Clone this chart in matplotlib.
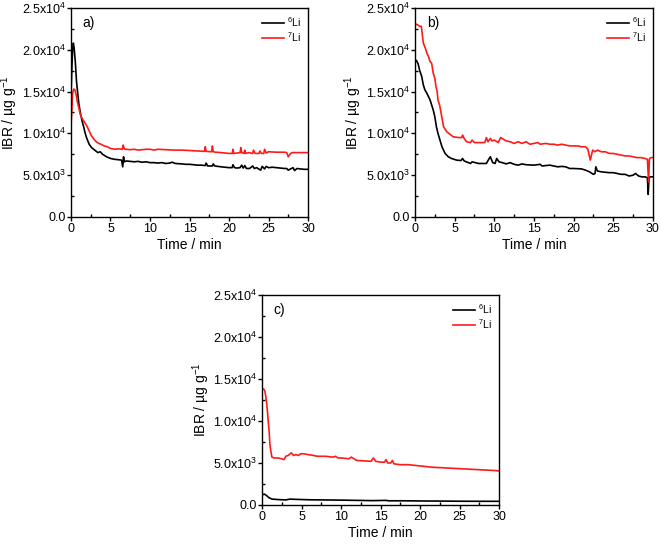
import numpy as np
import matplotlib
matplotlib.use("Agg")
import matplotlib.pyplot as plt
from matplotlib.ticker import MultipleLocator, FuncFormatter

plt.rcParams.update({"font.family": "Liberation Sans", "font.size": 9,
                     "mathtext.fontset": "custom",
                     "mathtext.rm": "Liberation Sans",
                     "mathtext.it": "Liberation Sans:italic",
                     "mathtext.bf": "Liberation Sans:bold"})

# ---- datos (IBR en unidades de 1e3 ug/g) ----
# a)
ta_6 = [0, 0.1, 0.2, 0.3, 0.4, 0.55, 0.7, 0.85, 1.0, 1.2, 1.4, 1.6, 1.8, 2.0, 2.3, 2.6,
        3.0, 3.4, 3.7, 4.0, 4.5, 5.0, 5.5, 6.0, 6.4, 6.55, 6.65, 6.75, 7.0, 7.5, 8.0, 8.5,
        9.0, 9.5, 10, 10.5, 11, 11.5, 12, 12.5, 12.8, 13.2, 14, 14.5, 15, 15.5, 16, 16.5,
        17, 17.1, 17.3, 17.9, 18.0, 18.2, 19, 19.5, 20, 20.4, 20.5, 20.7, 21, 21.4, 21.6,
        21.8, 22.0, 22.2, 22.6, 23.0, 23.2, 23.5, 24.0, 24.2, 24.5, 24.7, 25, 25.5, 26,
        26.5, 27, 27.3, 27.5, 27.8, 28.1, 28.3, 28.6, 29, 29.5, 30]
ya_6 = [14.5, 17.5, 20.0, 20.8, 20.2, 18.5, 16.2, 14.8, 13.5, 12.4, 11.5, 10.8, 10.0, 9.4,
        8.7, 8.3, 8.0, 7.7, 7.8, 7.5, 7.2, 7.0, 6.9, 6.85, 6.8, 6.0, 7.2, 6.6, 6.7, 6.65,
        6.6, 6.65, 6.55, 6.6, 6.5, 6.5, 6.45, 6.5, 6.4, 6.45, 6.55, 6.4, 6.35, 6.3, 6.3,
        6.25, 6.2, 6.2, 6.15, 6.45, 6.1, 6.1, 6.35, 6.1, 6.0, 5.95, 5.9, 5.9, 6.25, 5.9,
        5.85, 5.9, 6.2, 5.85, 6.15, 5.8, 5.8, 6.1, 5.8, 5.9, 5.6, 6.05, 5.75, 6.05, 5.9,
        5.95, 5.9, 5.85, 5.8, 5.8, 5.6, 5.75, 5.9, 5.55, 5.8, 5.75, 5.7, 5.7]
ta_7 = [0, 0.1, 0.2, 0.35, 0.5, 0.65, 0.8, 1.0, 1.2, 1.4, 1.6, 1.8, 2.0, 2.3, 2.6, 2.9,
        3.2, 3.5, 3.8, 4.2, 4.6, 5.0, 5.5, 6.0, 6.5, 6.6, 6.7, 6.8, 7.0, 7.5, 8, 8.5, 9,
        9.5, 10, 10.5, 11, 12, 13, 14, 15, 16, 16.9, 17.0, 17.1, 17.8, 17.9, 18.0, 18.3,
        19, 19.5, 20, 20.4, 20.5, 20.6, 21, 21.4, 21.5, 21.6, 21.9, 22.0, 22.1, 22.5, 23,
        23.1, 23.3, 23.8, 23.9, 24.1, 24.4, 24.5, 24.7, 25, 26, 27, 27.3, 27.5, 27.8, 28,
        29, 30]
ya_7 = [11.0, 12.5, 14.8, 15.3, 15.2, 14.6, 13.8, 13.0, 12.2, 11.8, 11.5, 11.2, 10.9,
        10.3, 9.7, 9.3, 9.0, 8.8, 8.7, 8.5, 8.4, 8.2, 8.1, 8.15, 8.1, 8.6, 8.3, 8.1, 8.1,
        8.05, 8.1, 8.0, 8.05, 8.1, 8.1, 8.0, 8.1, 8.05, 8.0, 8.0, 7.95, 7.9, 7.85, 8.4,
        7.85, 7.8, 8.5, 7.8, 7.75, 7.7, 7.65, 7.6, 7.6, 8.1, 7.6, 7.65, 7.7, 8.3, 7.7,
        7.6, 8.0, 7.6, 7.7, 7.6, 8.0, 7.6, 7.6, 7.9, 7.6, 7.6, 8.1, 7.65, 7.8, 7.75,
        7.75, 7.7, 7.2, 7.6, 7.7, 7.7, 7.7]
# b)
tb_6 = [0, 0.2, 0.4, 0.6, 0.85, 1.05, 1.25, 1.5, 1.7, 1.9, 2.1, 2.3, 2.5, 2.7, 2.9, 3.15,
        3.4, 3.6, 3.8, 4.2, 4.6, 5.25, 5.8, 6.0, 6.2, 7.0, 7.2, 8, 9.0, 9.3, 9.5, 9.8,
        10.1, 10.3, 10.6, 11, 11.5, 12, 12.5, 13, 13.5, 14, 15, 15.8, 16, 17, 18, 18.5,
        19, 19.5, 20, 21, 21.5, 22, 22.5, 22.7, 22.8, 23, 23.5, 24, 24.5, 25, 25.5, 26,
        26.5, 27, 27.5, 27.8, 28.2, 28.6, 29, 29.3, 29.4, 29.5, 29.6, 29.8, 30]
yb_6 = [18.8, 18.7, 18.3, 17.5, 16.8, 15.8, 15.2, 14.8, 14.4, 14.0, 13.4, 12.8, 12.0,
        10.8, 10.0, 9.2, 8.4, 8.0, 7.6, 7.2, 7.0, 6.8, 6.75, 7.0, 6.7, 6.4, 6.6, 6.4,
        6.4, 6.9, 7.2, 6.5, 6.4, 7.0, 6.6, 6.5, 6.35, 6.5, 6.3, 6.2, 6.35, 6.25, 6.2,
        6.3, 6.1, 6.2, 6.0, 6.05, 6.0, 5.8, 5.8, 5.75, 5.6, 5.4, 5.1, 5.2, 6.0, 5.5,
        5.4, 5.35, 5.3, 5.3, 5.2, 5.1, 5.1, 4.9, 5.0, 5.2, 4.9, 4.8, 4.8, 4.7, 2.7, 4.6,
        4.8, 4.8, 4.8]
tb_7 = [0, 0.3, 0.6, 0.8, 1.05, 1.3, 1.5, 1.7, 1.9, 2.1, 2.3, 2.5, 2.65, 2.8, 2.9, 3.1,
        3.3, 3.45, 3.6, 3.8, 4.0, 4.4, 4.8, 5.5, 5.9, 6.0, 6.2, 6.5, 7.0, 7.2, 7.5, 8,
        8.8, 9.0, 9.2, 9.5, 9.7, 10.0, 10.5, 10.8, 11.5, 12, 12.5, 13, 13.5, 14, 14.5,
        15, 15.5, 15.8, 16.5, 17, 17.5, 18, 18.5, 19, 19.5, 20, 20.5, 21, 21.5, 21.8,
        22.1, 22.4, 22.7, 23, 23.5, 24, 24.5, 25, 25.5, 26, 26.5, 27, 27.5, 28, 28.5, 29,
        29.3, 29.45, 29.55, 29.7, 30]
yb_7 = [23.1, 23.0, 22.8, 22.8, 20.8, 20.2, 19.6, 19.2, 18.6, 18.4, 17.2, 16.6, 15.6,
        15.0, 14.0, 13.4, 12.4, 11.6, 10.8, 10.5, 10.2, 9.9, 9.6, 9.5, 9.5, 9.8, 9.4,
        9.0, 8.9, 9.2, 8.9, 8.9, 8.9, 9.5, 9.0, 9.4, 9.1, 9.2, 8.9, 9.5, 9.1, 9.0, 8.8,
        9.0, 8.8, 9.0, 8.7, 8.8, 8.9, 8.7, 8.8, 8.7, 8.7, 8.6, 8.7, 8.6, 8.5, 8.5, 8.5,
        8.4, 8.4, 8.1, 6.8, 8.0, 7.8, 8.0, 7.8, 7.8, 7.6, 7.6, 7.5, 7.4, 7.3, 7.3, 7.2,
        7.1, 7.1, 7.0, 6.9, 4.2, 6.9, 7.1, 7.1]
# c)
tc_6 = [0, 0.3, 0.6, 0.9, 1.3, 2.0, 3.0, 3.5, 4.0, 5, 6, 8, 10, 12, 14, 15.7, 16, 18,
        20, 22, 25, 28, 30]
yc_6 = [1.2, 1.3, 1.1, 0.85, 0.7, 0.65, 0.6, 0.7, 0.68, 0.65, 0.62, 0.6, 0.58, 0.55,
        0.52, 0.55, 0.5, 0.5, 0.48, 0.47, 0.45, 0.44, 0.44]
tc_7 = [0, 0.2, 0.35, 0.5, 0.6, 0.7, 0.8, 0.9, 1.0, 1.1, 1.25, 1.5, 2.0, 2.5, 2.8, 3.0,
        3.3, 3.7, 4.0, 4.3, 4.6, 4.9, 5.3, 5.8, 6.2, 7.0, 8.0, 9.0, 9.3, 9.6, 10, 10.5,
        11, 11.3, 12, 13, 13.8, 14.1, 14.4, 15, 15.5, 15.7, 15.9, 16.3, 16.5, 16.7, 17.5,
        18.5, 19.5, 20.5, 21.5, 22.5, 23.5, 24.5, 25.5, 26.5, 27.5, 28.5, 29.5, 30]
yc_7 = [13.9, 13.8, 13.6, 12.8, 12.0, 11.0, 9.8, 8.8, 7.2, 6.5, 5.7, 5.6, 5.6, 5.5, 5.4,
        5.8, 5.9, 6.2, 5.9, 6.0, 5.9, 6.1, 6.1, 6.0, 5.95, 5.8, 5.8, 5.7, 5.8, 5.6, 5.6,
        5.55, 5.5, 5.7, 5.3, 5.25, 5.2, 5.6, 5.2, 5.1, 5.1, 5.4, 5.0, 5.0, 5.3, 4.9, 4.8,
        4.8, 4.7, 4.6, 4.5, 4.45, 4.4, 4.35, 4.3, 4.25, 4.2, 4.15, 4.1, 4.05]

paneles = [
    ("a)", [0.1074, 0.6026, 0.3586, 0.3828], ta_6, ya_6, ta_7, ya_7),
    ("b)", [0.6278, 0.6026, 0.3600, 0.3828], tb_6, yb_6, tb_7, yb_7),
    ("c)", [0.3964, 0.0751, 0.3586, 0.3846], tc_6, yc_6, tc_7, yc_7),
]


def fmt_y(v, pos):
    if v == 0:
        return "0.0"
    e = int(np.floor(np.log10(abs(v))))
    m = v / 10 ** e
    return f"{m:.1f}x10$^{{{e}}}$"


fig = plt.figure(figsize=(6.61, 5.46), dpi=100)
for etiqueta, rect, t6, y6, t7, y7 in paneles:
    ax = fig.add_axes(rect)
    ax.plot(t6, np.array(y6) * 1000, color="black", lw=1.2, label="$^{6}$Li")
    ax.plot(t7, np.array(y7) * 1000, color="#ff1a1a", lw=1.2, label="$^{7}$Li")
    ax.set_xlim(0, 30); ax.set_ylim(0, 25000)
    ax.xaxis.set_major_locator(MultipleLocator(5))
    ax.xaxis.set_minor_locator(MultipleLocator(2.5))
    ax.yaxis.set_major_locator(MultipleLocator(5000))
    ax.yaxis.set_minor_locator(MultipleLocator(2500))
    ax.yaxis.set_major_formatter(FuncFormatter(fmt_y))
    ax.tick_params(which="major", direction="out", length=3, width=1, labelsize=9)
    ax.tick_params(axis="y", which="major", pad=0.5)
    ax.tick_params(axis="x", which="major", pad=1.5)
    ax.tick_params(which="minor", direction="in", length=2, width=1)
    for sp in ax.spines.values():
        sp.set_linewidth(1.0)
    ax.set_xlabel("Time / min", fontsize=10, labelpad=2)
    ax.set_ylabel("IBR / µg g$^{-1}$", fontsize=10, labelpad=1)
    ax.text(0.05, 0.93, etiqueta, transform=ax.transAxes, fontsize=10, va="center")
    ax.legend(loc="upper right", frameon=False, fontsize=7.5, handlelength=2.1,
              handletextpad=0.3, labelspacing=0.15, borderaxespad=0.25)

fig.savefig("out.png", dpi=100)
